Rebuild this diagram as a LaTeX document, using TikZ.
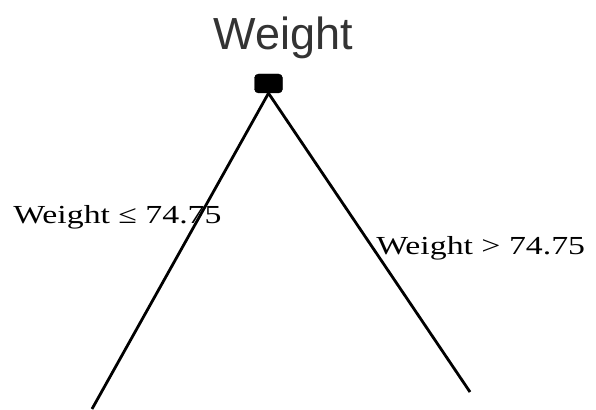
\documentclass[tikz,border=0pt]{standalone}
\usepackage{fontspec}
\setmainfont{Liberation Serif}
\setsansfont{Liberation Sans}
\usepackage{tikz}
\usetikzlibrary{positioning}
\definecolor{title}{RGB}{51,51,51}

\begin{document}
\begin{tikzpicture}[x=1pt,y=-1pt]
  \useasboundingbox (0,0) rectangle (596,409);
  \tikzset{
    root/.style={fill=black,draw=black,rounded corners=4pt,minimum width=28pt,minimum height=19pt,inner sep=0pt},
    edge/.style={line width=2.8pt,black},
    cond/.style={font=\fontsize{26}{28}\selectfont,xscale=1.3,transform shape,inner sep=0pt,anchor=base west}
  }
  \node[font=\sffamily\fontsize{45}{50}\selectfont,title,anchor=base] (head) at (283,50) {Weight};
  \node[root] (weight) at (268.5,83.5) {};
  \coordinate (leftend) at (92,409);
  \coordinate (rightend) at (470,392);
  \node[cond] (le) at (13,223) {Weight ≤ 74.75};
  \node[cond] (gt) at (376,254) {Weight > 74.75};
  \draw[edge] (weight.south) -- (leftend);
  \draw[edge] (weight.south) -- (rightend);
\end{tikzpicture}
\end{document}
